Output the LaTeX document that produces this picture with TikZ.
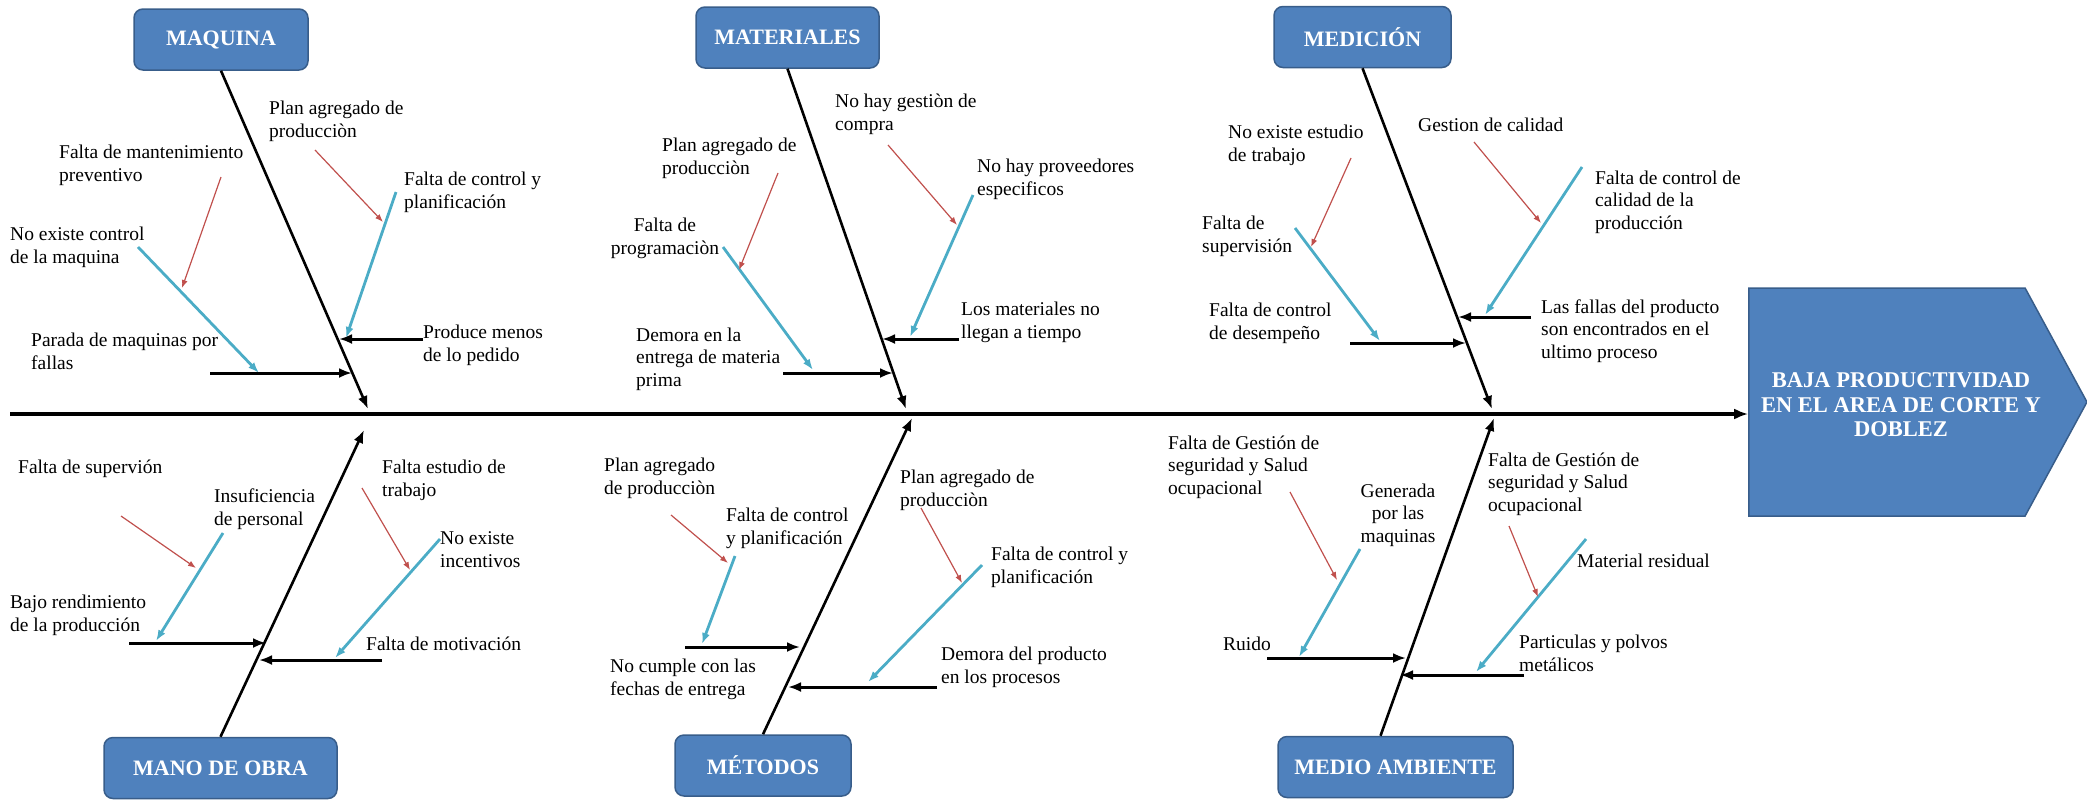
\documentclass[tikz,border=0pt]{standalone}
\usepackage{fontspec}
\setmainfont{Liberation Serif}
\usetikzlibrary{positioning}
\usetikzlibrary{arrows.meta}
\usetikzlibrary{shapes.symbols}
\tikzset{>=Latex}
\definecolor{boxblue}{HTML}{4F81BD}
\definecolor{boxline}{HTML}{385D8A}
\definecolor{causeblue}{HTML}{4BACC6}
\definecolor{causered}{HTML}{C0504D}

\begin{document}
\begin{tikzpicture}[x=1pt, y=-1pt,
    catbox/.style={rectangle, rounded corners=9pt, draw=boxline, line width=1.5pt, fill=boxblue,
        text=white, font=\fontsize{22}{24}\selectfont\bfseries, minimum height=61pt},
    cause/.style={inner sep=0pt, align=left, anchor=base west, font=\fontsize{19.5}{22.5}\selectfont},
    causec/.style={cause, align=center, anchor=base},
    spine/.style={-{Latex[length=14pt, width=11pt]}, line width=3.2pt},
    bone/.style={-{Latex[length=13pt, width=10pt]}, line width=2.6pt},
    subcause/.style={-{Latex[length=13pt, width=10pt]}, line width=3pt},
    bluecause/.style={-{Latex[length=11pt, width=8pt]}, causeblue, line width=2.8pt},
    redcause/.style={-{Latex[length=8pt, width=6pt]}, causered, line width=1.2pt}]
\useasboundingbox (0,0) rectangle (2087,803);

% head and spine
\node[signal, signal to=east, signal pointer angle=123, fill=boxblue, draw=boxline, line width=1.5pt,
      minimum width=338pt, minimum height=228pt, inner sep=0pt] (head) at (1887,402) {};
\node[inner sep=0pt, align=center, text=white, font=\fontsize{22.5}{24.5}\selectfont\bfseries] (headlbl) at (1901,405)
    {BAJA PRODUCTIVIDAD\\EN EL AREA DE CORTE Y\\DOBLEZ};
\coordinate (tail) at (10,414);
\draw[spine] (tail) -- (head.west |- tail);

% categories
\node[catbox, minimum width=174pt] (maq) at (221,39.5) {MAQUINA};
\node[catbox, minimum width=183pt] (mat) at (787.5,37.5) {MATERIALES};
\node[catbox, minimum width=177pt] (med) at (1362.5,37) {MEDICIÓN};
\node[catbox, minimum width=233pt] (mano) at (220.5,768) {MANO DE OBRA};
\node[catbox, minimum width=176pt] (met) at (763,765.5) {MÉTODOS};
\node[catbox, minimum width=235pt] (amb) at (1395.5,767) {MEDIO AMBIENTE};

\coordinate (maqb) at (368,409);
\coordinate (matb) at (906,409);
\coordinate (medb) at (1492,409);
\coordinate (manob) at (364,430);
\coordinate (metb) at (912,418);
\coordinate (ambb) at (1494,418);
\path[bone]
    (maq.south) edge (maqb)
    (mat.south) edge (matb)
    (med.south) edge (medb)
    (mano.north) edge (manob)
    (met.north) edge (metb)
    ([xshift=-15pt]amb.north) edge (ambb);

% maquina
\node[cause] (m1) at (269,137) {Plan agregado de\\producciòn};
\node[cause] (m2) at (59,181) {Falta de mantenimiento\\preventivo};
\node[cause] (m3) at (404,208) {Falta de control y\\planificación};
\node[cause] (m4) at (10,263) {No existe control\\de la maquina};
\node[cause] (m5) at (31,369) {Parada de maquinas por\\fallas};
\node[cause] (m6) at (423,361) {Produce menos\\de lo pedido};
\coordinate (m1a) at (315,150); \coordinate (m1b) at (383,222);
\coordinate (m2a) at (221,177); \coordinate (m2b) at (182,288);
\coordinate (m3a) at (396,192); \coordinate (m3b) at (346,338);
\coordinate (m4a) at (138,247); \coordinate (m4b) at (259,373);
\coordinate (m5a) at (210,373); \coordinate (m5b) at (352,373);
\coordinate (m6a) at (423,339); \coordinate (m6b) at (339,339);

% materiales
\node[cause] (t1) at (835,130) {No hay gestiòn de\\compra};
\node[cause] (t2) at (662,174) {Plan agregado de\\producciòn};
\node[cause] (t3) at (977,195) {No hay proveedores\\especificos};
\node[causec] (t4) at (665,254) {Falta de\\programaciòn};
\node[cause] (t5) at (636,386) {Demora en la\\entrega de materia\\prima};
\node[cause] (t6) at (961,338) {Los materiales no\\llegan a tiempo};
\coordinate (t1a) at (888,145); \coordinate (t1b) at (957,225);
\coordinate (t2a) at (778,173); \coordinate (t2b) at (739,270);
\coordinate (t3a) at (973,195); \coordinate (t3b) at (910,337);
\coordinate (t4a) at (723,247); \coordinate (t4b) at (813,370);
\coordinate (t5a) at (783,373); \coordinate (t5b) at (893,373);
\coordinate (t6a) at (959,339); \coordinate (t6b) at (882,339);

% medicion
\node[cause] (d1) at (1228,161) {No existe estudio\\de trabajo};
\node[cause] (d2) at (1418,131) {Gestion de calidad};
\node[cause] (d3) at (1595,229) {Falta de control de\\calidad de la\\producción};
\node[cause] (d4) at (1202,252) {Falta de\\supervisión};
\node[cause] (d5) at (1209,339) {Falta de control\\de desempeño};
\node[cause] (d6) at (1541,358) {Las fallas del producto\\son encontrados en el\\ultimo proceso};
\coordinate (d1a) at (1351,158); \coordinate (d1b) at (1311,247);
\coordinate (d2a) at (1474,142); \coordinate (d2b) at (1541,223);
\coordinate (d3a) at (1582,167); \coordinate (d3b) at (1485,315);
\coordinate (d4a) at (1295,228); \coordinate (d4b) at (1380,341);
\coordinate (d5a) at (1350,343); \coordinate (d5b) at (1466,343);
\coordinate (d6a) at (1531,317); \coordinate (d6b) at (1458,317);

% mano de obra
\node[cause] (o1) at (18,473) {Falta de supervión};
\node[cause] (o2) at (214,525) {Insuficiencia\\de personal};
\node[cause] (o3) at (382,496) {Falta estudio de\\trabajo};
\node[cause] (o4) at (440,567) {No existe\\incentivos};
\node[cause] (o5) at (10,631) {Bajo rendimiento\\de la producción};
\node[cause] (o6) at (366,650) {Falta de motivación};
\coordinate (o1a) at (121,516); \coordinate (o1b) at (196,568);
\coordinate (o2a) at (223,533); \coordinate (o2b) at (156,641);
\coordinate (o3a) at (362,488); \coordinate (o3b) at (410,570);
\coordinate (o4a) at (440,539); \coordinate (o4b) at (335,658);
\coordinate (o5a) at (129,643); \coordinate (o5b) at (266,643);
\coordinate (o6a) at (382,660); \coordinate (o6b) at (259,660);

% metodos
\node[cause] (e1) at (604,494) {Plan agregado\\de producciòn};
\node[cause] (e2) at (726,544) {Falta de control\\y planificación};
\node[cause] (e3) at (900,506) {Plan agregado de\\producciòn};
\node[cause] (e4) at (991,583) {Falta de control y\\planificación};
\node[cause] (e5) at (610,695) {No cumple con las\\fechas de entrega};
\node[cause] (e6) at (941,683) {Demora del producto\\en los procesos};
\coordinate (e1a) at (671,515); \coordinate (e1b) at (728,563);
\coordinate (e2a) at (735,556); \coordinate (e2b) at (702,644);
\coordinate (e3a) at (921,508); \coordinate (e3b) at (962,583);
\coordinate (e4a) at (982,565); \coordinate (e4b) at (868,682);
\coordinate (e5a) at (685,647); \coordinate (e5b) at (800,647);
\coordinate (e6a) at (937,687); \coordinate (e6b) at (788,687);

% medio ambiente
\node[cause] (a1) at (1168,494) {Falta de Gestión de\\seguridad y Salud\\ocupacional};
\node[causec] (a2) at (1398,542) {Generada\\por las\\maquinas};
\node[cause] (a3) at (1488,511) {Falta de Gestión de\\seguridad y Salud\\ocupacional};
\node[cause] (a4) at (1577,567) {Material residual};
\node[cause] (a5) at (1223,650) {Ruido};
\node[cause] (a6) at (1519,671) {Particulas y polvos\\metálicos};
\coordinate (a1a) at (1290,492); \coordinate (a1b) at (1337,580);
\coordinate (a2a) at (1360,549); \coordinate (a2b) at (1299,657);
\coordinate (a3a) at (1509,526); \coordinate (a3b) at (1538,597);
\coordinate (a4a) at (1586,539); \coordinate (a4b) at (1476,672);
\coordinate (a5a) at (1267,658); \coordinate (a5b) at (1406,658);
\coordinate (a6a) at (1524,675); \coordinate (a6b) at (1400,675);

\path[subcause]
    (m5a) edge (m5b) (m6a) edge (m6b)
    (t5a) edge (t5b) (t6a) edge (t6b)
    (d5a) edge (d5b) (d6a) edge (d6b)
    (o5a) edge (o5b) (o6a) edge (o6b)
    (e5a) edge (e5b) (e6a) edge (e6b)
    (a5a) edge (a5b) (a6a) edge (a6b);
\path[bluecause]
    (m3a) edge (m3b) (m4a) edge (m4b)
    (t3a) edge (t3b) (t4a) edge (t4b)
    (d3a) edge (d3b) (d4a) edge (d4b)
    (o2a) edge (o2b) (o4a) edge (o4b)
    (e2a) edge (e2b) (e4a) edge (e4b)
    (a2a) edge (a2b) (a4a) edge (a4b);
\path[redcause]
    (m1a) edge (m1b) (m2a) edge (m2b)
    (t1a) edge (t1b) (t2a) edge (t2b)
    (d1a) edge (d1b) (d2a) edge (d2b)
    (o1a) edge (o1b) (o3a) edge (o3b)
    (e1a) edge (e1b) (e3a) edge (e3b)
    (a1a) edge (a1b) (a3a) edge (a3b);
\end{tikzpicture}
\end{document}
